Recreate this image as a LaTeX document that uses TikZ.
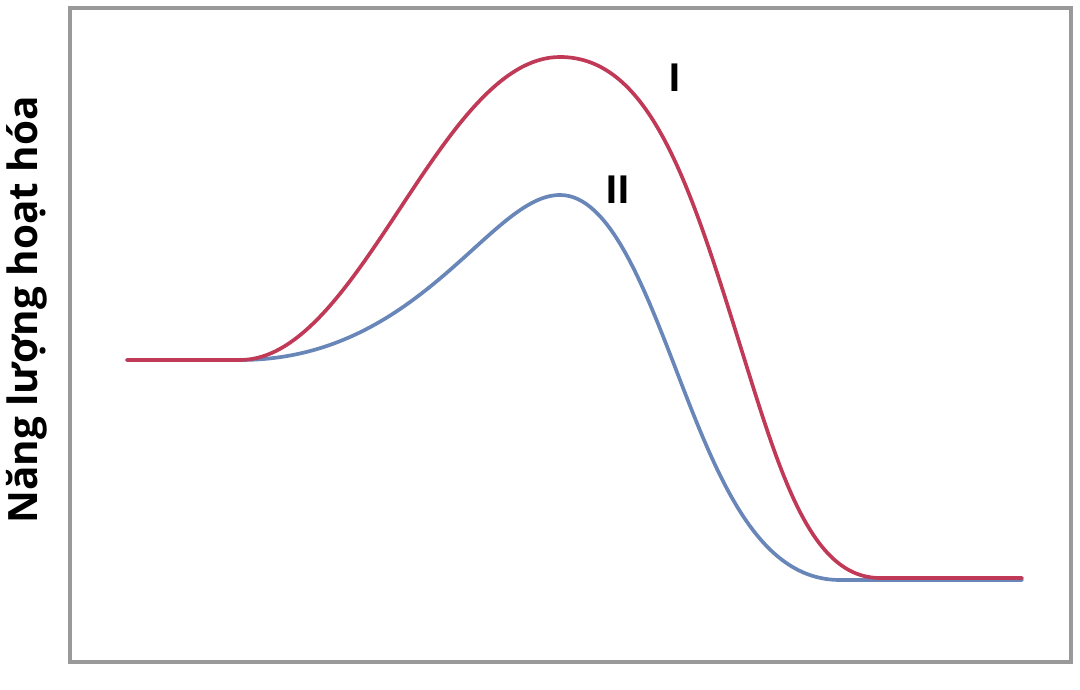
\documentclass[tikz,border=0pt]{standalone}
\usepackage{fontspec}
\setmainfont{Open Sans}
\usepackage{tikz}
\usetikzlibrary{positioning}
\definecolor{curvered}{RGB}{192,58,88}
\definecolor{curveblue}{RGB}{104,134,184}
\tikzset{
  frame/.style={draw=gray!80,line width=0.9pt},
  pathI/.style={curvered,line width=1.05pt,line cap=round},
  pathII/.style={curveblue,line width=1.05pt,line cap=round},
  curvelabel/.style={font=\bfseries\fontsize{11}{13}\selectfont,inner sep=0pt},
  axislabel/.style={font=\bfseries\fontsize{11.5}{14}\selectfont,rotate=90,inner sep=0pt},
}

\begin{document}
\begin{tikzpicture}[x=0.1mm,y=-0.1mm]
  \useasboundingbox (0,0) rectangle (1080,690);
  \draw[frame] (70,8) rectangle (1071,662);
  % curve II (blue)
  \draw[pathII] (127,360) -- (240,360)
    .. controls (420,360) and (490,195) .. (560,195)
    .. controls (610,195) and (645,289) .. (680,380)
    .. controls (720,484) and (760,580) .. (840,580) -- (1022,580);
  % curve I (red)
  \draw[pathI] (127,360) -- (240,360)
    .. controls (360,360) and (440,57) .. (560,57)
    .. controls (650,57) and (690,185) .. (740,345)
    .. controls (780,473) and (810,578) .. (880,578) -- (1022,578);
  \node[curvelabel] (labI) at (675,78) {I};
  \node[curvelabel] (labII) at (618,190) {II};
  \node[axislabel] (ylab) at (27,310) {Năng lượng hoạt hóa};
\end{tikzpicture}
\end{document}
